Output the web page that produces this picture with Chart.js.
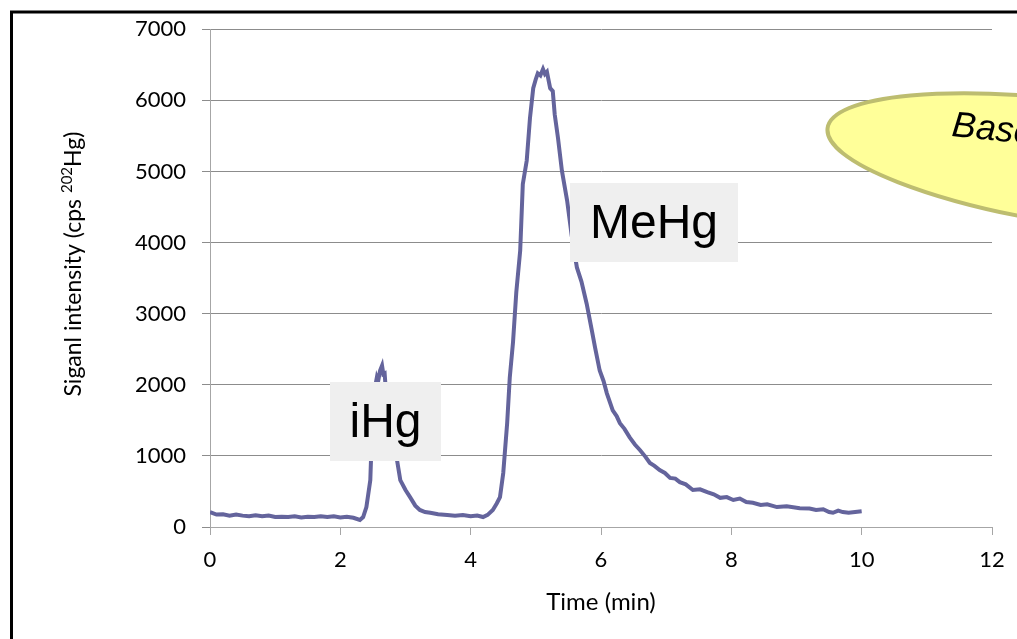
<!DOCTYPE html>
<html>
<head>
<meta charset="utf-8">
<script src="https://cdn.jsdelivr.net/npm/chart.js@4"></script>
<style>
  html, body { margin: 0; padding: 0; background: #fff; }
  #wrap { width: 1017px; height: 639px; position: relative; }
</style>
</head>
<body>
<div id="wrap"><canvas id="chromChart" width="1017" height="639"></canvas></div>
<script>
// --- Data ---
const times = [
  0.00, 0.10, 0.20, 0.30, 0.40, 0.50, 0.60, 0.70, 0.80, 0.90,
  1.00, 1.10, 1.20, 1.30, 1.40, 1.50, 1.60, 1.70, 1.80, 1.90,
  2.00, 2.10, 2.20, 2.30, 2.35, 2.40, 2.46, 2.48, 2.50, 2.53,
  2.56, 2.58, 2.61, 2.64, 2.66, 2.68, 2.70, 2.73, 2.79, 2.84,
  2.87, 2.92, 3.00, 3.07, 3.15, 3.22, 3.30, 3.38, 3.50, 3.64,
  3.76, 3.88, 4.00, 4.10, 4.19, 4.26, 4.34, 4.40, 4.45, 4.50,
  4.56, 4.60, 4.65, 4.70, 4.76, 4.80, 4.86, 4.91, 4.96, 5.00,
  5.03, 5.07, 5.11, 5.14, 5.17, 5.22, 5.26, 5.29, 5.34, 5.40,
  5.48, 5.55, 5.63, 5.70, 5.78, 5.86, 5.91, 5.98, 6.04, 6.09,
  6.18, 6.24, 6.29, 6.36, 6.44, 6.52, 6.60, 6.68, 6.75, 6.82,
  6.90, 6.98, 7.06, 7.14, 7.21, 7.30, 7.41, 7.52, 7.63, 7.73,
  7.83, 7.93, 8.03, 8.13, 8.23, 8.33, 8.45, 8.55, 8.70, 8.85,
  9.05, 9.20, 9.30, 9.41, 9.50, 9.56, 9.64, 9.71, 9.80, 9.90,
  10.00
];
const signal = [
  210, 175, 180, 160, 175, 160, 150, 165, 150, 160,
  140, 145, 140, 150, 135, 145, 140, 150, 140, 150,
  135, 145, 130, 100, 140, 280, 660, 1200, 1680, 1950,
  2100, 2050, 2200, 2270, 2150, 2160, 1900, 1680, 1260, 1050,
  940, 660, 520, 420, 300, 240, 210, 200, 180, 170,
  160, 170, 150, 160, 140, 170, 240, 330, 420, 760,
  1460, 2100, 2600, 3300, 3885, 4820, 5150, 5750, 6170, 6300,
  6380, 6350, 6440, 6370, 6400, 6170, 6130, 5800, 5470, 5010,
  4590, 4100, 3650, 3450, 3140, 2760, 2520, 2200, 2050, 1880,
  1640, 1560, 1460, 1380, 1260, 1160, 1080, 990, 900, 860,
  800, 760, 690, 680, 630, 600, 520, 530, 490, 460,
  410, 420, 380, 400, 350, 340, 310, 320, 280, 290,
  265, 260, 240, 250, 210, 200, 230, 210, 200, 210,
  220
];
const xTicks = [0, 2, 4, 6, 8, 10, 12];
const yTicks = [0, 1000, 2000, 3000, 4000, 5000, 6000, 7000];
const peakLabels = ['iHg', 'MeHg'];

const lineColor = '#64649c';
const gridColor = '#8c8c8c';
const axisColor = '#a6a6a6';

// labels, callout, y title and frame drawn on top of the line
const overlayPlugin = {
  id: 'overlay',
  afterDatasetsDraw(chart) {
    const ctx = chart.ctx;
    ctx.save();

    // peak label boxes
    const boxes = [
      { text: peakLabels[0], x: 330, y: 382, w: 111, h: 79 },
      { text: peakLabels[1], x: 570, y: 183, w: 168, h: 79 }
    ];
    boxes.forEach(b => {
      ctx.fillStyle = '#efefef';
      ctx.fillRect(b.x, b.y, b.w, b.h);
      ctx.fillStyle = '#000';
      ctx.font = '48px "Liberation Sans", Arial, sans-serif';
      ctx.textAlign = 'center';
      ctx.textBaseline = 'middle';
      ctx.fillText(b.text, b.x + b.w / 2, b.y + b.h / 2 + 2);
    });

    // yellow callout (cut off at the right edge)
    ctx.beginPath();
    ctx.ellipse(1090, 165, 265, 62, 0.14, 0, Math.PI * 2);
    ctx.fillStyle = '#ffff99';
    ctx.fill();
    ctx.lineWidth = 4;
    ctx.strokeStyle = '#bdbd70';
    ctx.stroke();
    ctx.save();
    ctx.translate(951, 136);
    ctx.rotate(0.1);
    ctx.fillStyle = '#000';
    ctx.font = 'italic 36px "Liberation Sans", Arial, sans-serif';
    ctx.textAlign = 'left';
    ctx.textBaseline = 'alphabetic';
    ctx.fillText('Baseline', 0, 0);
    ctx.restore();

    // y axis title with superscript mass number
    const area = chart.chartArea;
    const mainFont = '23px Lato, sans-serif';
    const supFont = '15px Lato, sans-serif';
    const parts = [
      { t: 'Siganl intensity (cps ', f: mainFont, dy: 0 },
      { t: '202', f: supFont, dy: -9 },
      { t: 'Hg)', f: mainFont, dy: 0 }
    ];
    let total = 0;
    parts.forEach(p => { ctx.font = p.f; p.w = ctx.measureText(p.t).width; total += p.w; });
    ctx.translate(81, (area.top + area.bottom) / 2 - 14);
    ctx.rotate(-Math.PI / 2);
    ctx.fillStyle = '#000';
    ctx.textAlign = 'left';
    ctx.textBaseline = 'alphabetic';
    let px = -total / 2;
    parts.forEach(p => {
      ctx.font = p.f;
      ctx.fillText(p.t, px, p.dy);
      px += p.w;
    });
    ctx.restore();

    // outer frame
    ctx.save();
    ctx.lineWidth = 3;
    ctx.strokeStyle = '#000';
    ctx.strokeRect(11.5, 12, 1040, 660);
    ctx.restore();
  }
};

document.addEventListener('DOMContentLoaded', () => {
  const ctx = document.getElementById('chromChart').getContext('2d');
  new Chart(ctx, {
    type: 'line',
    data: {
      datasets: [{
        label: 'Signal',
        data: times.map((t, i) => ({ x: t, y: signal[i] })),
        borderColor: lineColor,
        borderWidth: 4,
        pointRadius: 0,
        tension: 0,
        fill: false
      }]
    },
    options: {
      responsive: false,
      animation: false,
      layout: { padding: { top: 28, right: 25, left: 0, bottom: 0 } },
      plugins: {
        legend: { display: false },
        tooltip: { enabled: false }
      },
      scales: {
        x: {
          type: 'linear',
          min: 0,
          max: 12,
          afterBuildTicks: axis => { axis.ticks = xTicks.map(v => ({ value: v })); },
          afterFit: axis => { axis.height = 112; },
          grid: { drawOnChartArea: false, color: axisColor, tickLength: 8, tickColor: axisColor },
          border: { color: axisColor, width: 1 },
          ticks: { color: '#000', padding: 12, font: { family: 'Lato', size: 22 } },
          title: {
            display: true,
            text: 'Time (min)',
            color: '#000',
            padding: { top: 4, bottom: 22 },
            font: { family: 'Lato', size: 24 }
          }
        },
        y: {
          min: 0,
          max: 7000,
          afterBuildTicks: axis => { axis.ticks = yTicks.map(v => ({ value: v })); },
          afterFit: axis => { axis.width = 210; },
          grid: { color: gridColor, tickLength: 8, tickColor: gridColor },
          border: { color: axisColor, width: 1 },
          ticks: {
            color: '#000',
            padding: 16,
            font: { family: 'Lato', size: 22 },
            callback: v => String(v)
          }
        }
      }
    },
    plugins: [overlayPlugin]
  });
});
</script>
</body>
</html>
